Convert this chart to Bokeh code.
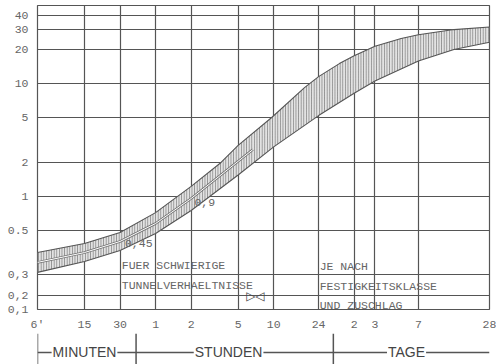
from bokeh.plotting import figure
from bokeh.models import Range1d, FixedTicker, Label
from bokeh.layouts import column
from bokeh.core.properties import value
from bokeh.embed import file_html
from bokeh.resources import INLINE

# time axis (minutes) and its labels
x_ticks = [6, 15, 30, 60, 120, 300, 600, 1440, 2880, 4320, 10080, 40320]
x_tick_labels = ["6'", "15", "30", "1", "2", "5", "10", "24", "2", "3", "7", "28"]

# strength axis (N/mm2) and its labels
y_ticks = [0.1, 0.133, 0.204, 0.5, 1, 2, 5, 10, 20, 30, 40]
y_tick_labels = ["0,1", "0,2", "0,3", "0.5", "1", "2", "5", "10", "20", "30", "40"]

# upper limit of the band
upper_t = [6, 15, 30, 60, 120, 215, 300, 577, 1094, 1440, 2160, 2880, 4320, 7200, 10080, 20160, 40320]
upper_v = [0.319, 0.384, 0.480, 0.72, 1.23, 2.0, 2.83, 5.0, 9.2, 11.5, 15.0, 17.6, 21.4, 25.0, 27.0, 30.0, 31.6]

# lower limit of the band
lower_t = [6, 15, 30, 60, 120, 300, 600, 1440, 2880, 4320, 10080, 20160, 40320]
lower_v = [0.213, 0.266, 0.333, 0.471, 0.752, 1.55, 2.75, 5.2, 8.2, 10.5, 15.8, 20.0, 23.2]

# dividing line inside the early part of the band
mid_t = [6, 15, 30, 60, 120, 300, 400]
mid_v = [0.261, 0.319, 0.400, 0.577, 0.96, 2.05, 2.6]

# annotations
note_text = ["0,45", "0,9", "FUER SCHWIERIGE", "TUNNELVERHAELTNISSE",
             "JE NACH", "FESTIGKEITSKLASSE", "UND ZUSCHLAG"]
note_t = [33, 128, 31, 31, 1470, 1470, 1470]
note_v = [0.384, 0.885, 0.245, 0.163, 0.240, 0.160, 0.108]
marker_t = [420]
marker_v = [0.133]

# unit bracket below the axis
bracket_edges = [6, 41, 1920]
unit_names = ["MINUTEN", "STUNDEN", "TAGE"]
unit_centers = [15, 249, 8000]

GRID = "#555555"
TXT = "#666666"

p = figure(width=496, height=333, x_axis_type="log", y_axis_type="log",
           x_range=Range1d(x_ticks[0], x_ticks[-1]), y_range=Range1d(0.1, 49),
           output_backend="svg", toolbar_location=None,
           min_border_left=37, min_border_right=7, min_border_top=5, min_border_bottom=24)
p.background_fill_color = "white"
p.border_fill_color = "white"
p.outline_line_color = GRID
p.outline_line_width = 1.2

p.xaxis.ticker = FixedTicker(ticks=x_ticks)
p.yaxis.ticker = FixedTicker(ticks=y_ticks)
p.xgrid.ticker = FixedTicker(ticks=x_ticks)
p.ygrid.ticker = FixedTicker(ticks=y_ticks)
p.xaxis.major_label_overrides = {t: l for t, l in zip(x_ticks, x_tick_labels)}
p.yaxis.major_label_overrides = {t: l for t, l in zip(y_ticks, y_tick_labels)}
for ax in (p.xaxis, p.yaxis):
    ax.axis_line_color = None
    ax.major_tick_line_color = None
    ax.minor_tick_line_color = None
    ax.major_tick_out = 0
    ax.major_tick_in = 0
    ax.minor_tick_out = 0
    ax.axis_label_standoff = 0
    ax.major_label_text_font = "Liberation Mono"
    ax.major_label_text_font_size = "11.5px"
    ax.major_label_text_color = TXT
p.xaxis.major_label_standoff = 8
p.yaxis.major_label_standoff = 9
for g in (p.xgrid, p.ygrid):
    g.grid_line_color = GRID
    g.grid_line_width = 1.2
    g.grid_line_alpha = 1.0

# band
p.patch(x=upper_t + lower_t[::-1], y=upper_v + lower_v[::-1],
        fill_color="#e2e2e2", fill_alpha=1.0,
        hatch_pattern="|", hatch_color="#7a7a7a", hatch_scale=2.6, hatch_weight=0.8,
        line_color="#555555", line_width=1.1)
p.line(mid_t, mid_v, line_color="#777777", line_width=2.6)
p.line(mid_t, mid_v, line_color="white", line_width=1.0)

p.text(x=note_t, y=note_v, text=note_text, text_font=value("Liberation Mono"),
       text_font_size="11.5px", text_color=TXT, text_align="left", text_baseline="middle")
p.text(x=marker_t, y=marker_v, text=["\u25b7\u25c1"], text_font=value("DejaVu Sans"),
       text_font_size="12px", text_color="#444444", text_align="center", text_baseline="middle")

# bracket figure
p2 = figure(width=496, height=31, x_axis_type="log", x_range=p.x_range, y_range=Range1d(0, 1),
            output_backend="svg", toolbar_location=None,
            x_axis_location=None, y_axis_location=None,
            min_border_left=37, min_border_right=7, min_border_top=0, min_border_bottom=0)
p2.grid.visible = False
p2.outline_line_color = None
p2.background_fill_color = "white"
p2.border_fill_color = "white"
p2.line(x=[x_ticks[0], x_ticks[-1]], y=[0.39, 0.39], line_color="#555555", line_width=1.5)
p2.segment(x0=bracket_edges, y0=[0] * 3, x1=bracket_edges, y1=[1] * 3,
           line_color="#555555", line_width=1.5)
for name, cx in zip(unit_names, unit_centers):
    p2.add_layout(Label(x=cx, y=0.39, text=name, text_align="center", text_baseline="middle",
                        text_font="Liberation Sans", text_font_size="14px", text_color="#444444",
                        background_fill_color="white", padding=1))

layout = column(p, p2, spacing=0)
open("out.html", "w").write(file_html(layout, INLINE))
